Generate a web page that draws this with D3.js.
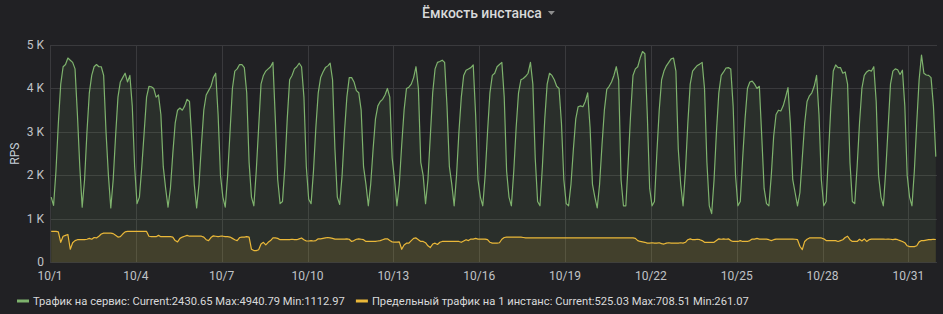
<!DOCTYPE html>
<html>
<head>
<meta charset="utf-8">
<script src="https://cdn.jsdelivr.net/npm/d3@7"></script>
<style>
  html, body { margin: 0; padding: 0; background: #212124; }
  svg { display: block; font-family: Roboto, "Noto Sans", sans-serif; }
</style>
</head>
<body>
<div id="chart"></div>
<script>
// samples every 2 hours, starting 10/1 01:00 (12 per day, one row per day)
const serviceTraffic = [
  1500, 1310, 2100, 3200, 4100, 4500, 4550, 4700, 4650, 4600, 4450, 3400,
  2200, 1270, 1900, 3000, 3900, 4300, 4500, 4550, 4500, 4500, 4300, 3000,
  2000, 1250, 1900, 2900, 3800, 4150, 4250, 4350, 4150, 4300, 3600, 2200,
  1350, 1500, 2200, 3000, 3800, 4050, 4040, 4000, 3800, 3850, 3400, 2200,
  1700, 1270, 1700, 2500, 3200, 3500, 3550, 3500, 3600, 3750, 3700, 2800,
  1800, 1250, 1800, 2700, 3500, 3850, 3950, 4050, 4250, 4350, 3400, 2000,
  1500, 1270, 2000, 3000, 4000, 4400, 4450, 4550, 4550, 4480, 3900, 2300,
  1500, 1300, 2100, 3100, 4100, 4300, 4400, 4450, 4500, 4600, 3300, 1900,
  1350, 1400, 2200, 3300, 4200, 4300, 4450, 4500, 4580, 4500, 3800, 2200,
  1450, 1350, 2100, 3100, 3900, 4250, 4380, 4480, 4520, 4580, 4200, 2600,
  1500, 1330, 2000, 3000, 3800, 4250, 4250, 4150, 3950, 3900, 3500, 2200,
  1800, 1300, 1800, 2600, 3300, 3600, 3700, 3750, 3850, 4000, 3800, 2400,
  1900, 1300, 1800, 2700, 3500, 4000, 4030, 4100, 4250, 4500, 4000, 2300,
  2000, 1350, 1900, 2900, 3900, 4450, 4600, 4620, 4650, 4600, 3600, 2200,
  1800, 1300, 2000, 3000, 3800, 4300, 4420, 4450, 4480, 4540, 3400, 1900,
  1500, 1300, 2000, 3000, 3900, 4300, 4350, 4500, 4550, 4600, 3800, 2100,
  1500, 1300, 2100, 3100, 3900, 4200, 4230, 4280, 4350, 4600, 4100, 2400,
  1400, 1300, 2200, 3300, 4100, 4350, 4300, 4200, 4050, 4000, 3200, 1900,
  1350, 1300, 1800, 2600, 3300, 3580, 3600, 3580, 3700, 3900, 3100, 1800,
  1500, 1250, 1800, 2700, 3500, 3980, 4050, 4150, 4300, 4500, 4200, 1900,
  1300, 1300, 2300, 3400, 4300, 4450, 4500, 4700, 4850, 4800, 3400, 1700,
  1300, 1400, 2500, 3500, 4200, 4400, 4520, 4600, 4680, 4700, 4400, 2600,
  1800, 1300, 2100, 3200, 4100, 4400, 4470, 4530, 4560, 4600, 4000, 2300,
  1300, 1120, 1900, 3000, 3900, 4300, 4380, 4470, 4480, 4450, 3600, 2000,
  1300, 1400, 2400, 3300, 4000, 4150, 4170, 4100, 4000, 4050, 2900, 1700,
  1350, 1300, 2000, 2900, 3400, 3500, 3480, 3600, 3800, 4020, 3200, 1900,
  1600, 1300, 1600, 2400, 3200, 3700, 3830, 3900, 4050, 4300, 3400, 1900,
  1300, 1400, 2500, 3600, 4400, 4540, 4480, 4480, 4350, 4380, 4100, 2300,
  1400, 1350, 2200, 3200, 4000, 4300, 4380, 4420, 4400, 4500, 3700, 2000,
  1500, 1300, 2100, 3100, 4100, 4400, 4450, 4430, 4320, 4420, 3600, 2000,
  1500, 1300, 2100, 3200, 4200, 4770, 4350, 4310, 4300, 4250, 3600, 2431
];

const instanceLimit = [
  710, 710, 710, 700, 460, 600, 620, 640, 300, 450, 500, 520,
  520, 520, 520, 530, 550, 530, 570, 560, 600, 650, 670, 670,
  670, 670, 660, 620, 580, 590, 650, 700, 710, 710, 710, 710,
  710, 710, 710, 710, 710, 600, 590, 590, 590, 620, 590, 590,
  590, 590, 590, 580, 500, 470, 550, 580, 600, 620, 600, 600,
  600, 600, 600, 600, 580, 520, 500, 570, 610, 600, 590, 600,
  600, 590, 590, 580, 550, 520, 500, 570, 580, 580, 590, 580,
  300, 270, 270, 290, 420, 460, 400, 460, 500, 560, 560, 550,
  520, 520, 520, 520, 520, 530, 520, 520, 540, 560, 520, 490,
  490, 500, 490, 500, 540, 540, 550, 560, 570, 560, 550, 535,
  535, 535, 535, 535, 540, 530, 480, 500, 530, 540, 530, 520,
  480, 480, 480, 480, 480, 490, 500, 520, 540, 540, 500, 470,
  465, 465, 470, 300, 400, 440, 440, 500, 550, 560, 520, 480,
  480, 450, 380, 340, 420, 440, 410, 460, 480, 480, 480, 480,
  480, 480, 480, 480, 460, 490, 520, 500, 535, 535, 550, 535,
  535, 535, 535, 520, 460, 440, 440, 440, 450, 530, 570, 580,
  580, 580, 580, 580, 580, 580, 570, 560, 560, 560, 560, 560,
  560, 560, 560, 560, 560, 560, 560, 560, 560, 560, 560, 560,
  560, 560, 560, 560, 560, 560, 560, 560, 560, 560, 560, 560,
  560, 560, 560, 560, 560, 560, 560, 560, 560, 560, 560, 560,
  560, 560, 560, 560, 560, 550, 500, 480, 470, 460, 440, 440,
  450, 440, 440, 450, 430, 420, 440, 450, 440, 440, 440, 440,
  450, 440, 460, 520, 540, 520, 520, 530, 520, 500, 460, 460,
  460, 460, 460, 500, 540, 530, 540, 530, 540, 500, 480, 480,
  480, 500, 480, 480, 480, 500, 535, 535, 550, 535, 535, 535,
  535, 520, 500, 520, 535, 535, 535, 535, 535, 535, 535, 535,
  530, 520, 370, 290, 480, 530, 560, 560, 560, 560, 560, 560,
  540, 500, 500, 500, 500, 500, 480, 500, 520, 570, 600, 520,
  480, 480, 480, 530, 490, 540, 480, 520, 535, 535, 535, 535,
  535, 535, 530, 535, 530, 520, 535, 520, 500, 480, 450, 380,
  360, 360, 360, 380, 470, 500, 500, 510, 520, 520, 530, 525
];

const seriesNames = ["Трафик на сервис", "Предельный трафик на 1 инстанс"];
const seriesStats = [
  "Current:2430.65 Max:4940.79 Min:1112.97",
  "Current:525.03 Max:708.51 Min:261.07"
];
const yTicks = [0, 1000, 2000, 3000, 4000, 5000];
const title = "Ёмкость инстанса";
const yLabel = "RPS";

const W = 943, H = 314;
const margin = {top: 45, right: 6, bottom: 52, left: 50};
const colors = ["#7eb26d", "#eab839"];

const t0 = new Date(2019, 9, 1, 1);
const timeAt = (i) => d3.timeHour.offset(t0, i * 2);

const svg = d3.select("#chart").append("svg")
  .attr("width", W)
  .attr("height", H);

const x = d3.scaleTime()
  .domain([new Date(2019, 9, 1), new Date(2019, 10, 1)])
  .range([margin.left, W - margin.right]);

const y = d3.scaleLinear()
  .domain([0, 5000])
  .range([H - margin.bottom + 0.3, margin.top]);

// grid
const grid = svg.append("g").attr("stroke", "#3a3a3d").attr("stroke-width", 1);
const xTicks = d3.timeDay.every(3).range(new Date(2019, 9, 1), new Date(2019, 10, 1));
grid.selectAll(".vx").data(xTicks).enter().append("line")
  .attr("x1", (d) => Math.round(x(d)) + 0.5)
  .attr("x2", (d) => Math.round(x(d)) + 0.5)
  .attr("y1", y(5000))
  .attr("y2", y(0));
grid.selectAll(".hy").data(yTicks).enter().append("line")
  .attr("x1", margin.left)
  .attr("x2", W - margin.right)
  .attr("y1", (d) => Math.round(y(d)) + 0.5)
  .attr("y2", (d) => Math.round(y(d)) + 0.5);

// series
const series = [serviceTraffic, instanceLimit].map((vals) =>
  vals.map((v, i) => ({t: timeAt(i), v: v})));

const area = d3.area()
  .x((d) => x(d.t))
  .y0(y(0))
  .y1((d) => y(d.v));
const line = d3.line()
  .x((d) => x(d.t))
  .y((d) => y(d.v));

series.forEach((s, i) => {
  svg.append("path")
    .datum(s)
    .attr("d", area)
    .attr("fill", colors[i])
    .attr("fill-opacity", i === 0 ? 0.1 : 0.13);
});
series.forEach((s, i) => {
  svg.append("path")
    .datum(s)
    .attr("d", line)
    .attr("fill", "none")
    .attr("stroke", colors[i])
    .attr("stroke-width", 1.2)
    .attr("stroke-linejoin", "round");
});

// y axis labels
const yFmt = (v) => v === 0 ? "0" : (v / 1000) + " K";
svg.append("g").selectAll("text")
  .data(yTicks).enter().append("text")
  .attr("x", 44)
  .attr("y", (d) => y(d) + 4)
  .attr("text-anchor", "end")
  .attr("font-size", 12)
  .attr("fill", "#c0c3c7")
  .text(yFmt);

svg.append("text")
  .attr("transform", `translate(19, ${(y(0) + y(5000)) / 2}) rotate(-90)`)
  .attr("text-anchor", "middle")
  .attr("font-size", 12)
  .attr("fill", "#c7d0d9")
  .text(yLabel);

// x axis labels
const xFmt = d3.timeFormat("%-m/%-d");
svg.append("g").selectAll("text")
  .data(xTicks).enter().append("text")
  .attr("x", (d) => x(d))
  .attr("y", 280)
  .attr("text-anchor", "middle")
  .attr("font-size", 12)
  .attr("fill", "#c0c3c7")
  .text(xFmt);

// title
const titleText = svg.append("text")
  .attr("x", 422)
  .attr("y", 18)
  .attr("font-size", 14)
  .attr("font-weight", 500)
  .attr("fill", "#d8d9da")
  .text(title);
const tw = titleText.node().getComputedTextLength();
const cx = 422 + tw + 6;
svg.append("path")
  .attr("d", `M${cx},11 L${cx + 7},11 L${cx + 3.5},15 Z`)
  .attr("fill", "#8e8e8e");

// legend
let lx = 17;
seriesNames.forEach((name, i) => {
  svg.append("rect")
    .attr("x", lx)
    .attr("y", 299.5)
    .attr("width", 12)
    .attr("height", 3)
    .attr("fill", colors[i]);
  const txt = svg.append("text")
    .attr("x", lx + 16)
    .attr("y", 305)
    .attr("font-size", 11.2)
    .attr("fill", "#d8d9da")
    .text(`${name}: ${seriesStats[i]}`);
  lx = lx + 16 + txt.node().getComputedTextLength() + 11;
});
</script>
</body>
</html>
